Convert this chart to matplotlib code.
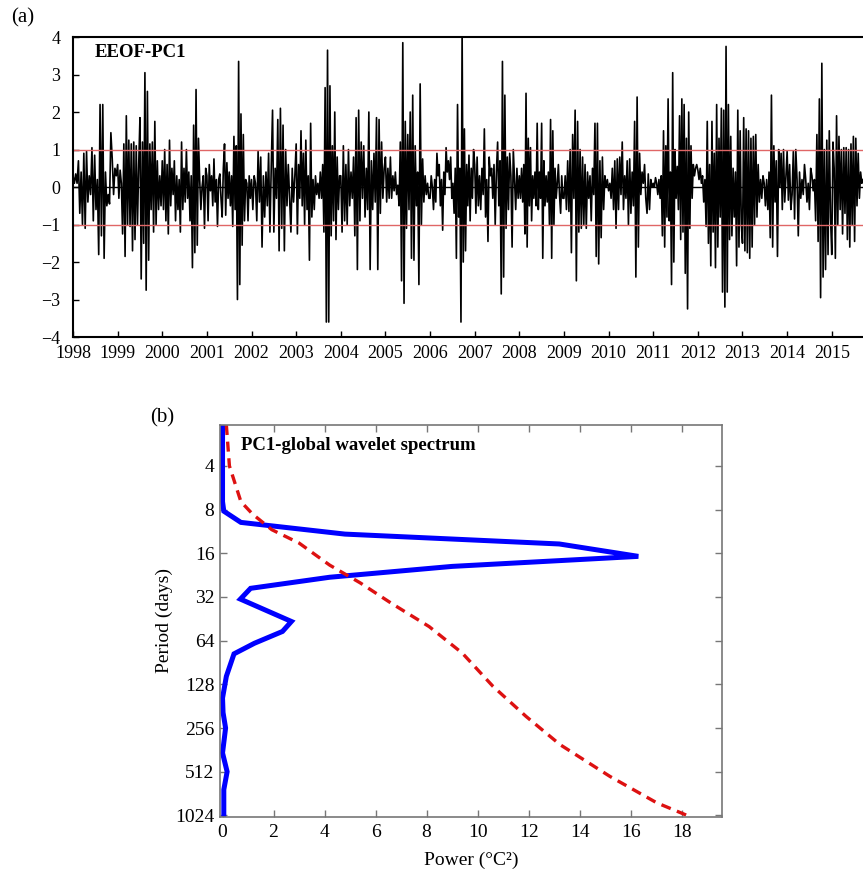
import matplotlib.pyplot as plt
import numpy as np

plt.rcParams.update({
    "font.family": ["Liberation Serif", "DejaVu Serif"],
    "axes.unicode_minus": True,
})

# EEOF-PC1 time series
pc1_1998 = [0.3, 0.1, 0.35, 0.1, 0.7, -0.7, 0.4, -1.0, 0.9, -1.1, 0.95, -0.4, 0.3, -0.2, 1.05, -0.9, 0.85,
            -0.6, 0.2, -1.8, 2.2, -1.3, 2.2, -1.9, 0.4, -0.5, -0.2, -0.45, 1.45, 0.75, -0.2, 0.5, 0.3]
pc1_1999 = [0.6, -0.3, 0.45, 0.1, -1.25, 1.15, -1.85, 1.9, -1.0, 1.25, -1.05, 1.15, -1.7, 1.2, -1.4, 1.1,
            -1.0, 0.6, 1.85, -2.45, 1.2, -1.5, 3.05, -2.75, 2.55, -1.95, 1.15, -0.6, 1.2, -1.2, 1.75, -1.0,
            0.7, -0.6, 0.3, -0.5]
pc1_2000 = [0.7, -0.6, 1.0, -0.9, 0.6, -1.25, 1.25, -0.5, 0.5, -0.2, 0.7, -0.9, 0.3, -0.6, 0.2, -1.2, 1.2,
            -0.6, 0.5, -0.4, 1.0, -0.3, 0.4, -0.9, 0.3, -2.15, 1.65, -1.75, 2.6, -1.55, 1.3, 0.2, -0.6, 0.0,
            0.3, -1.1, 0.5]
pc1_2001 = [0.3, -0.9, 0.6, -0.1, 0.3, -0.5, 0.75, -0.4, 0.2, -1.05, 0.2, 0.35, -0.3, -0.8, 0.5, 1.15,
            -0.75, 0.65, -0.3, 0.4, -0.5, 0.3, -1.05, 1.35, -0.6, 1.1, -3.0, 3.35, -2.6, 1.95, -1.55, 1.4,
            -0.9, 0.2, 0.1, -0.9, 0.3, -0.3]
pc1_2002 = [0.2, -0.6, 0.3, 0.1, -0.9, 0.95, -0.4, 0.8, -1.6, 0.3, -0.8, 0.4, -0.5, 0.9, -1.2, 0.5, 2.05,
            -1.2, 0.5, -0.3, 1.8, -1.7, 2.1, -1.1, 1.65, -1.7, 1.0, -0.5, 0.6, -0.3, -1.2, 0.5, -0.4, 0.3]
pc1_2003 = [1.15, -1.25, 0.6, -0.3, 1.5, -0.5, 0.9, -1.0, 1.25, -0.6, 0.3, -1.95, 1.7, -0.8, 0.2, -0.6,
            0.3, -0.2, 0.1, -0.3, 0.4, -0.3, 0.6, -1.2, 2.65, -3.6, 3.65, -3.6, 2.7, -1.3, 1.1, -0.9, 2.0,
            -1.4, 0.8, -0.6, 0.3]
pc1_2004 = [0.3, -1.2, 1.1, -0.9, 0.6, -1.0, 1.0, -0.5, 0.4, -0.3, 0.8, -1.3, 1.85, -2.2, 2.05, -0.9, 1.2,
            -0.3, 1.1, -0.8, 0.5, -0.6, 2.0, -2.2, 0.7, -0.6, 0.9, -0.4, 1.85, -2.2, 1.8, -0.7, 1.2, -0.3,
            0.5]
pc1_2005 = [0.8, -0.4, 0.5, -0.3, 0.8, -0.3, 0.3, -0.1, 0.4, -0.2, 0.05, -0.5, 1.2, -2.5, 3.85, -3.1,
            1.75, -1.1, 1.4, -0.6, 2.0, -1.9, 2.45, -1.95, 1.1, -0.5, 0.4, -2.6, 2.75, -1.0, 0.75, -0.4,
            0.3, -0.2, 0.1, -0.3]
pc1_2006 = [-0.3, 0.3, 0.0, -0.6, 0.2, -0.4, 0.9, 0.3, 0.6, -0.5, 0.2, -1.15, 0.4, -0.2, 1.05, 0.4, 0.7,
            0.2, 0.8, -0.3, 0.1, -0.7, 0.5, -1.9, 2.2, -0.8, 0.5, -3.6, 4.2, -2.0, 1.55, -1.7, 0.6, -0.5,
            0.85, -0.9, 0.5, -0.3, 1.0]
pc1_2007 = [0.6, -0.7, 0.8, -0.5, 0.3, -0.6, 0.5, -0.2, 1.55, -0.8, 0.2, -1.45, 0.8, 0.3, 0.5, -0.3, 0.6,
            -1.0, 0.4, 1.2, -0.5, 0.7, -2.85, 3.35, -2.4, 2.45, -1.1, 0.8, -0.6, 0.9, 0.3, -1.6, 1.0, 0.2,
            -0.6, 0.5, -0.3]
pc1_2008 = [0.3, -0.3, 0.5, -0.4, 0.6, -1.25, 2.5, -1.6, 1.3, -0.5, 1.05, -0.9, 0.3, -0.3, 0.4, -0.5,
            1.7, -0.6, 0.4, -0.3, 1.7, -1.9, 0.7, -0.5, 0.3, -0.4, 0.4, -1.0, 1.8, -1.9, 1.5, -1.0, 0.5,
            -0.3, 0.1, 0.6, -0.2, -0.7, 0.3, -0.3]
pc1_2009 = [-0.3, 0.3, -0.6, 0.7, -0.65, 1.0, -1.75, 1.4, -0.3, 2.05, -2.5, 1.75, -1.2, 1.0, -1.1, 0.8,
            -1.0, 0.6, -1.1, 0.4, -0.3, 0.3, -0.9, 0.5, -0.2, 1.7, -1.85, 1.7, -2.05, 0.7, -1.35, 0.8, -0.6,
            0.3, 0.0, 0.2]
pc1_2010 = [-0.1, 0.1, -0.3, 0.5, -0.6, 0.7, -1.1, 0.75, -0.6, 0.8, -0.2, 1.2, -0.6, 0.3, -0.3, 0.7,
            -1.0, 0.75, -0.7, 0.4, -0.5, 1.75, -2.4, 2.4, -1.6, 0.9, -0.2, 0.4, 0.1, 0.6, -0.3, -0.7, 0.35,
            -0.6, 0.2, 0.0]
pc1_2011 = [0.1, 0.0, 0.25, 0.1, -0.2, 0.2, -0.3, 0.3, -1.3, 1.5, -1.6, 1.1, -0.8, 2.35, -0.9, 0.4, -2.6,
            3.05, -2.0, 1.0, -0.3, 0.55, -0.6, 1.9, -1.4, 2.35, -1.2, 2.2, -2.3, 1.3, -3.25, 2.0, -1.1, 1.1,
            -0.3, 0.6, 0.3, 0.5, 0.6]
pc1_2012 = [0.45, 0.2, 0.5, 0.1, 0.3, -0.4, 0.2, -1.05, 1.75, -1.5, 0.6, -2.1, 1.75, -1.2, 0.9, -2.15,
            2.2, -1.6, 1.3, -0.8, 2.1, -2.8, 2.05, -3.2, 3.75, -2.8, 2.2, -1.4, 1.35, -1.3, 0.5, -0.8, 0.4,
            -2.1, 2.05, -1.6, 1.5, -1.0]
pc1_2013 = [-1.5, 1.85, -1.7, 1.55, -1.75, 1.5, -1.9, 1.3, -1.6, 1.35, -1.0, 1.4, -0.8, 0.6, -0.4, 0.2,
            -0.3, 0.3, 0.1, -0.5, 0.2, -0.6, 0.4, -1.35, 2.45, -1.6, 1.1, -0.4, 0.7, -1.85, 1.0, 0.0, 0.9,
            -0.6, 1.0, -0.4, 0.3]
pc1_2014 = [0.95, -0.35, 0.6, -0.6, -0.2, 0.95, -0.85, 1.0, 0.2, -1.3, 0.4, -0.3, 0.2, -0.2, 0.6, 0.2,
            -0.4, 0.1, -0.6, 0.5, 0.3, -0.1, 0.2, -0.9, 1.4, -1.45, 2.35, -2.95, 3.3, -2.4, 1.0, -2.2, 1.25,
            -1.8, 1.5, -0.8]
pc1_2015 = [-1.8, 1.2, 0.5, -1.9, 1.9, -1.0, 1.35, -0.6, 1.0, -1.25, 1.05, -0.7, 1.05, -1.4, 1.0, -1.6,
            1.15, -1.0, 1.35, -1.45, 1.3, -0.5, 0.9, -0.3, 0.4, 0.1, 0.2]
pc1_end = 2015.70  # last sample of the record

year_ticks = list(range(1998, 2016))
pc1_ticks = [-4, -3, -2, -1, 0, 1, 2, 3, 4]

# global wavelet spectrum of PC1 and its significance curve
gws_period = [2.09, 7.05, 8.2, 9.8, 11.8, 13.8, 16.8, 19.7, 23.4, 27.9, 33.1, 47.2, 55.3, 66.7, 78.9,
              112.7, 159, 200, 256, 380, 512, 680, 1050]
gws_power = [0.0, 0.0, 0.05, 0.72, 4.8, 13.2, 16.3, 9.0, 4.2, 1.1, 0.7, 2.7, 2.35, 1.25, 0.45,
             0.15, 0.0, 0.02, 0.12, 0.0, 0.18, 0.05, 0.05]
sig_period = [2.09, 4.0, 7.05, 8.6, 11.0, 13.6, 19.3, 25.6, 35.2, 51.2, 78, 132, 213, 333, 552, 838, 1045]
sig_power = [0.15, 0.27, 0.72, 1.18, 1.93, 3.0, 4.2, 5.4, 6.6, 8.1, 9.4, 10.6, 11.9, 13.23, 15.19, 17.02,
             18.33]

period_ticks = [4, 8, 16, 32, 64, 128, 256, 512, 1024]
power_ticks = list(range(0, 19, 2))

pc1_segments = [pc1_1998, pc1_1999, pc1_2000, pc1_2001, pc1_2002, pc1_2003, pc1_2004, pc1_2005,
                pc1_2006, pc1_2007, pc1_2008, pc1_2009, pc1_2010, pc1_2011, pc1_2012, pc1_2013,
                pc1_2014, pc1_2015]

# spread each year's samples evenly over that year
t_parts = []
for yr, seg in zip(year_ticks, pc1_segments):
    n = len(seg)
    if yr == year_ticks[-1]:
        t_parts.append(yr + np.arange(n) * (pc1_end - yr) / (n - 1))
    else:
        t_parts.append(yr + np.arange(n) / n)
pc1_time = np.concatenate(t_parts)
pc1_vals = np.concatenate(pc1_segments)

fig = plt.figure(figsize=(8.63, 8.72), dpi=100)

# (a) time series
ax1 = fig.add_axes([0.0846, 0.6135, 0.9154, 0.344])
ax1.plot(pc1_time, pc1_vals, color="black", lw=1.2)
ax1.axhline(0, color="black", lw=1.0)
ax1.axhline(1, color="#e06666", lw=1.0)
ax1.axhline(-1, color="#e06666", lw=1.0)
ax1.set_xlim(1998, pc1_end)
ax1.set_ylim(-4, 4)
ax1.set_xticks(year_ticks)
ax1.set_yticks(pc1_ticks)
ax1.tick_params(direction="in", length=4, width=1, labelsize=13)
ax1.tick_params(axis="x", pad=6)
ax1.tick_params(axis="y", pad=9)
for side in ["left", "top", "bottom"]:
    ax1.spines[side].set_linewidth(1.5)
ax1.spines["right"].set_visible(False)
ax1.text(0.027, 0.947, "EEOF-PC1", transform=ax1.transAxes, fontsize=13.5, fontweight="bold",
         ha="left", va="center")
fig.text(23 / 863, 1 - 18 / 872, "(a)", fontsize=15, ha="center", va="center")

# (b) global wavelet spectrum
ax2 = fig.add_axes([0.2549, 0.0631, 0.5817, 0.4495])
ax2.plot(gws_power, gws_period, color="#0000ff", lw=3.6, solid_joinstyle="miter")
ax2.plot(sig_power, sig_period, color="#dd1111", lw=2.4, dashes=(3, 2))
ax2.set_yscale("log", base=2)
ax2.set_ylim(1050, 2.09)
ax2.set_xlim(-0.1, 19.58)
ax2.set_yticks(period_ticks)
ax2.set_yticklabels([str(p) for p in period_ticks])
ax2.yaxis.set_minor_locator(plt.NullLocator())
ax2.set_xticks(power_ticks)
ax2.tick_params(direction="in", length=5, width=1, color="#777777", labelsize=14,
                top=True, right=True)
ax2.tick_params(axis="y", pad=4)
ax2.tick_params(axis="x", pad=5)
for side in ax2.spines.values():
    side.set_color("#777777")
    side.set_linewidth(1.2)
ax2.text(0.042, 0.949, "PC1-global wavelet spectrum", transform=ax2.transAxes, fontsize=13.5,
         fontweight="bold", ha="left", va="center")
ax2.text(-0.11, 0.5, "Period (days)", transform=ax2.transAxes, rotation=90, fontsize=14,
         ha="center", va="center")
ax2.text(0.5, -0.11, "Power (°C²)", transform=ax2.transAxes, fontsize=14, ha="center", va="center")
fig.text(162 / 863, 1 - 418 / 872, "(b)", fontsize=15, ha="center", va="center")

fig.savefig("out.png", dpi=100)
